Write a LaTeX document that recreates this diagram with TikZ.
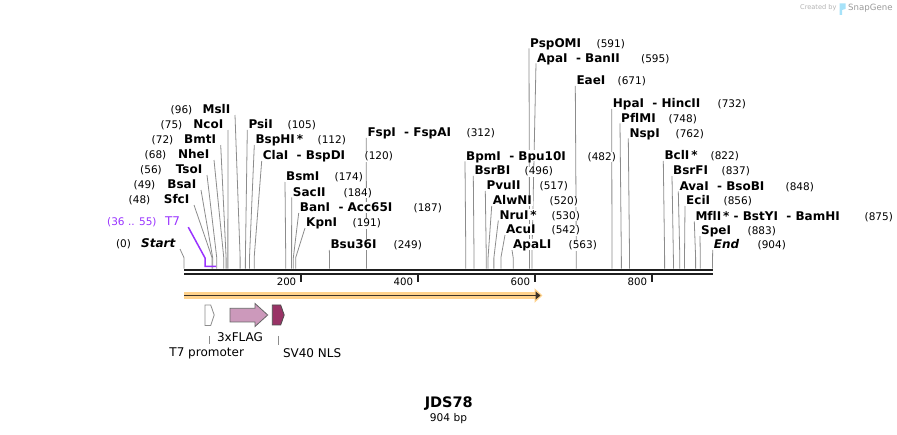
\documentclass[tikz,border=0pt]{standalone}
\usepackage{fontspec}
\setmainfont[Ligatures=NoCommon]{DejaVu Sans}
\usetikzlibrary{arrows.meta,backgrounds}

\definecolor{cutgray}{RGB}{140,140,140}
\definecolor{t7violet}{RGB}{153,51,255}
\definecolor{flagpink}{RGB}{204,153,187}
\definecolor{nlsred}{RGB}{153,51,102}
\definecolor{orfband}{RGB}{255,210,140}
\definecolor{orfline}{RGB}{60,50,40}

\tikzset{
  enz/.style={anchor=south west, fill=white, inner xsep=1pt, inner ysep=1pt,
    text depth=0pt, font=\fontsize{12}{14}\selectfont\bfseries},
  enzl/.style={enz, anchor=south east, inner xsep=4.5pt},
  num/.style={fill=white, inner sep=0.5pt, font=\fontsize{10.5}{12}\selectfont},
  numr/.style={num, anchor=base west},
  numl/.style={num, anchor=base east},
  cut/.style={cutgray, line width=0.8pt},
  feat/.style={font=\fontsize{12}{14}\selectfont},
}

\begin{document}
\begin{tikzpicture}[x=1pt, y=-1pt]
\useasboundingbox (0,0) rectangle (897,435);

% site positions on the sequence (0.5847 px per bp)
\foreach \p in {0,36,48,49,55,56,68,72,75,96,105,112,120,174,184,187,191,249,312,
    482,496,517,520,530,542,563,591,595,671,732,748,762,822,837,848,856,875,883,904}
  \coordinate (c\p) at ({184+0.5847*\p},268.7);

% sequence bar
\draw [line width=2.3pt, black!88] (184,269.8) -- (712.6,269.8);
\draw [line width=2pt, black!88] (184,274.3) -- (712.6,274.3);
\foreach \k in {200,400,600,800} {
  \draw [line width=1.7pt, black!88] ({184+0.5847*\k},275) -- ++(0,7);
  \node [anchor=east, inner sep=0pt, font=\fontsize{10.2}{12}\selectfont] (tk\k) at ({184+0.5847*\k-4.5},282) {\k};
}

% left hand sites
\node [enzl] (MslI) at (235,115) {MslI};
\node [numl] (n96) at (193,114) {(96)};
\node [enzl] (NcoI) at (228,130) {NcoI};
\node [numl] (n75) at (183,129) {(75)};
\node [enzl] (BmtI) at (220.7,145) {BmtI};
\node [numl] (n72) at (174,144) {(72)};
\node [enzl] (NheI) at (214,160) {NheI};
\node [numl] (n68) at (167,159) {(68)};
\node [enzl] (TsoI) at (207,175) {TsoI};
\node [numl] (n56) at (162.5,174) {(56)};
\node [enzl] (BsaI) at (201,190) {BsaI};
\node [numl] (n49) at (156,189) {(49)};
\node [enzl] (SfcI) at (194,205) {SfcI};
\node [numl] (n48) at (151,204) {(48)};
\node [feat, anchor=base east, inner xsep=8pt, inner ysep=1pt, text depth=0pt, text=t7violet] (T7) at (188.3,226) {T7};
\node [numl, text=t7violet] (n36) at (157.3,226) {(36 .. 55)};
\node [enzl, font=\fontsize{12}{14}\selectfont\bfseries\itshape] (Start) at (180,249) {Start};
\node [numl] (n0) at (131.7,248) {(0)};

% right hand sites
\node [enz] (PsiI) at (247.3,130) {PsiI};
\node [numr] (n105) at (287,129) {(105)};
\node [enz] (BspHI) at (254.3,145) {BspHI\kern2pt*};
\node [numr] (n112) at (317,144) {(112)};
\node [enz] (ClaI) at (261.7,161) {ClaI~~-~BspDI};
\node [numr] (n120) at (364,160) {(120)};
\node [enz] (BsmI) at (285,182) {BsmI};
\node [numr] (n174) at (334,181) {(174)};
\node [enz] (SacII) at (291.7,197.5) {SacII};
\node [numr] (n184) at (343,196.5) {(184)};
\node [enz] (BanI) at (298.7,213) {BanI~~-~Acc65I};
\node [numr] (n187) at (413,212) {(187)};
\node [enz] (KpnI) at (305,228) {KpnI};
\node [numr] (n191) at (352,227) {(191)};
\node [enz] (Bsu36I) at (329.3,250) {Bsu36I};
\node [numr] (n249) at (393,249) {(249)};
\node [enz] (FspI) at (366.3,138) {FspI~~-~FspAI};
\node [numr] (n312) at (466,137) {(312)};
\node [enz] (BpmI) at (465,161.5) {BpmI~~-~Bpu10I};
\node [numr] (n482) at (587,160.5) {(482)};
\node [enz] (BsrBI) at (473.3,176) {BsrBI};
\node [numr] (n496) at (524,175) {(496)};
\node [enz] (PvuII) at (485.3,191) {PvuII};
\node [numr] (n517) at (539,190) {(517)};
\node [enz] (AlwNI) at (491.7,206) {AlwNI};
\node [numr] (n520) at (549,205) {(520)};
\node [enz] (NruI) at (498.3,220.5) {NruI\kern2pt*};
\node [numr] (n530) at (551,219.5) {(530)};
\node [enz] (AcuI) at (505,235) {AcuI};
\node [numr] (n542) at (551,234) {(542)};
\node [enz] (ApaLI) at (512,250) {ApaLI};
\node [numr] (n563) at (568,249) {(563)};
\node [enz] (PspOMI) at (529,48.3) {PspOMI};
\node [numr] (n591) at (596,47.3) {(591)};
\node [enz] (ApaI) at (536,63.3) {ApaI~~-~BanII};
\node [numr] (n595) at (640.5,62.3) {(595)};
\node [enz] (EaeI) at (575.3,86) {EaeI};
\node [numr] (n671) at (617,85) {(671)};
\node [enz] (HpaI) at (611.7,109) {HpaI~~-~HincII};
\node [numr] (n732) at (717,108) {(732)};
\node [enz] (PflMI) at (620,123.5) {PflMI};
\node [numr] (n748) at (668,122.5) {(748)};
\node [enz] (NspI) at (628.3,138.5) {NspI};
\node [numr] (n762) at (675,137.5) {(762)};
\node [enz] (BclI) at (663.3,161) {BclI\kern2pt*};
\node [numr] (n822) at (710,160) {(822)};
\node [enz] (BsrFI) at (672,176) {BsrFI};
\node [numr] (n837) at (721,175) {(837)};
\node [enz] (AvaI) at (678.3,191.5) {AvaI~~-~BsoBI};
\node [numr] (n848) at (785,190.5) {(848)};
\node [enz] (EciI) at (685,206) {EciI};
\node [numr] (n856) at (723,205) {(856)};
\node [enz] (MflI) at (694.3,221.5) {MflI\kern2pt*~-~BstYI~~-~BamHI};
\node [numr] (n875) at (864,220.5) {(875)};
\node [enz] (SpeI) at (700,236) {SpeI};
\node [numr] (n883) at (747,235) {(883)};
\node [enz, font=\fontsize{12}{14}\selectfont\bfseries\itshape] (End) at (712.7,250) {End};
\node [numr] (n904) at (757,249) {(904)};

\begin{scope}[on background layer]
\draw [cut] (MslI.south east) -- ([yshift=11pt]c96) -- (c96);
\draw [cut] (NcoI.south east) -- ([yshift=11pt]c75) -- (c75);
\draw [cut] (BmtI.south east) -- ([yshift=11pt]c72) -- (c72);
\draw [cut] (NheI.south east) -- ([yshift=11pt]c68) -- (c68);
\draw [cut] (TsoI.south east) -- ([yshift=11pt]c56) -- (c56);
\draw [cut] (BsaI.south east) -- ([yshift=11pt]c49) -- (c49);
\draw [cut] (SfcI.south east) -- ([yshift=11pt]c48) -- (c48);
\draw [cut] (Start.south east) -- ([yshift=11pt]c0) -- (c0);
\draw [t7violet, line width=1.5pt] (T7.south east) -- ([yshift=10.7pt]c36) -- ([yshift=2.2pt]c36) -- ([yshift=2.2pt]c55);
\draw [cut] (PsiI.south west) -- ([yshift=11pt]c105) -- (c105);
\draw [cut] (BspHI.south west) -- ([yshift=11pt]c112) -- (c112);
\draw [cut] (ClaI.south west) -- ([yshift=11pt]c120) -- (c120);
\draw [cut] (BsmI.south west) -- ([yshift=11pt]c174) -- (c174);
\draw [cut] (SacII.south west) -- ([yshift=11pt]c184) -- (c184);
\draw [cut] (BanI.south west) -- ([yshift=11pt]c187) -- (c187);
\draw [cut] (KpnI.south west) -- ([yshift=11pt]c191) -- (c191);
\draw [cut] (Bsu36I.south west) -- ([yshift=11pt]c249) -- (c249);
\draw [cut] (FspI.south west) -- ([yshift=11pt]c312) -- (c312);
\draw [cut] (BpmI.south west) -- ([yshift=11pt]c482) -- (c482);
\draw [cut] (BsrBI.south west) -- ([yshift=11pt]c496) -- (c496);
\draw [cut] (PvuII.south west) -- ([yshift=11pt]c517) -- (c517);
\draw [cut] (AlwNI.south west) -- ([yshift=11pt]c520) -- (c520);
\draw [cut] (NruI.south west) -- ([yshift=11pt]c530) -- (c530);
\draw [cut] (AcuI.south west) -- ([yshift=11pt]c542) -- (c542);
\draw [cut] (ApaLI.south west) -- ([yshift=11pt]c563) -- (c563);
\draw [cut] (PspOMI.south west) -- ([yshift=11pt]c591) -- (c591);
\draw [cut] (ApaI.south west) -- ([yshift=11pt]c595) -- (c595);
\draw [cut] (EaeI.south west) -- ([yshift=11pt]c671) -- (c671);
\draw [cut] (HpaI.south west) -- ([yshift=11pt]c732) -- (c732);
\draw [cut] (PflMI.south west) -- ([yshift=11pt]c748) -- (c748);
\draw [cut] (NspI.south west) -- ([yshift=11pt]c762) -- (c762);
\draw [cut] (BclI.south west) -- ([yshift=11pt]c822) -- (c822);
\draw [cut] (BsrFI.south west) -- ([yshift=11pt]c837) -- (c837);
\draw [cut] (AvaI.south west) -- ([yshift=11pt]c848) -- (c848);
\draw [cut] (EciI.south west) -- ([yshift=11pt]c856) -- (c856);
\draw [cut] (MflI.south west) -- ([yshift=11pt]c875) -- (c875);
\draw [cut] (SpeI.south west) -- ([yshift=11pt]c883) -- (c883);
\draw [cut] (End.south west) -- ([yshift=11pt]c904) -- (c904);
\end{scope}

% open reading frame
\draw [orfband, line width=6.5pt, -{Triangle[length=8pt, width=14pt]}] (184,295.5) -- (542.5,295.5);
\draw [orfline, line width=1.6pt, -{Triangle[length=5pt, width=8pt]}] (184,295.5) -- (540.5,295.5);

% features
\draw [draw=black!45, fill=white, line width=0.8pt] (205,305) -- (210.7,305) -- (214.2,315) -- (210.7,325.5) -- (205,325.5) -- cycle;
\draw [draw=black!60, fill=flagpink, line width=0.8pt] (230,308.3) -- (255,308.3) -- (255,303.5) -- (267.7,315) -- (255,326.5) -- (255,322) -- (230,322) -- cycle;
\draw [draw=black!70, fill=nlsred, line width=0.8pt] (272.3,305) -- (280.7,305) -- (284.2,315) -- (280.7,325) -- (272.3,325) -- cycle;

\node [feat] (lFLAG) at (240,337.5) {3xFLAG};
\coordinate (kT7) at (209,336);
\node [feat] (lT7) at (206.7,353) {T7 promoter};
\draw [cutgray, line width=0.8pt] (kT7) -- (kT7 |- lT7.north);
\coordinate (kNLS) at (278.3,336);
\node [feat, anchor=west] (lNLS) at (279.5,353) {SV40 NLS};
\draw [cutgray, line width=0.8pt] (kNLS) -- (kNLS |- lNLS.north);

% title
\node [font=\fontsize{14.5}{16}\selectfont\bfseries] (title) at (448.8,404) {JDS78};
\node [font=\fontsize{10.6}{12}\selectfont] (size) at (448.5,419) {904 bp};

% watermark
\node [font=\fontsize{6.6}{8}\selectfont, text=black!30, anchor=west, inner sep=0pt] (wm1) at (800,8) {Created by};
\fill [cyan!35] (839.5,3.5) -- (845.5,3.5) -- (845.5,9) -- (842,10) -- (842,15) -- (839.5,15) -- cycle;
\node [font=\fontsize{8.6}{10}\selectfont, text=black!40, anchor=west, inner sep=0pt] (wm2) at (848,8) {SnapGene};
\end{tikzpicture}
\end{document}
